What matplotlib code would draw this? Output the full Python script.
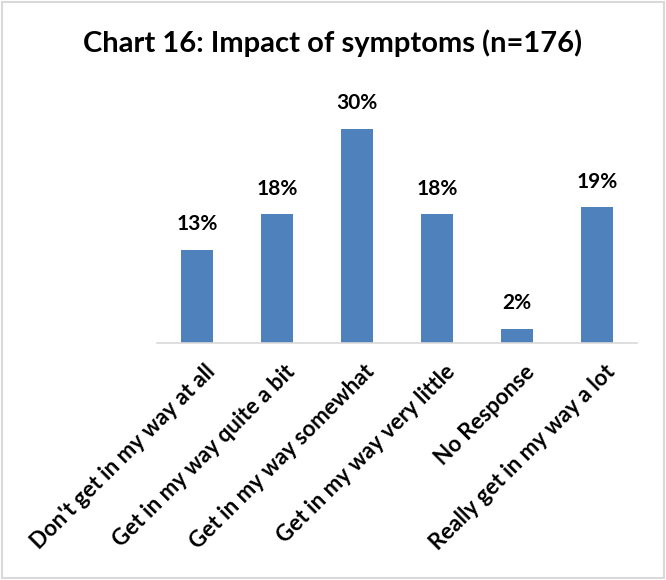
import matplotlib
matplotlib.use("Agg")
import matplotlib.pyplot as plt
from matplotlib.patches import Rectangle
from matplotlib.transforms import ScaledTranslation

categories = ["Don't get in my way at all", "Get in my way quite a bit",
              "Get in my way somewhat", "Get in my way very little",
              "No Response", "Really get in my way a lot"]
percent = [13, 18, 30, 18, 2, 19]
labels = ["13%", "18%", "30%", "18%", "2%", "19%"]

plt.rcParams["font.family"] = ["Lato", "DejaVu Sans"]
plt.rcParams["font.weight"] = "bold"

fig = plt.figure(figsize=(6.66, 5.8), dpi=100)
fig.patches.append(Rectangle((0.003, 0.003), 0.994, 0.994, transform=fig.transFigure,
                             fill=False, edgecolor="#d9d9d9", lw=1.5))

ax = fig.add_axes([0.2357, 0.4086, 0.7208, 0.4311])
x = range(len(categories))
ax.bar(x, percent, width=0.4, color="#4F81BD")
for xi, v, lab in zip(x, percent, labels):
    ax.text(xi, v + 2.2, lab, ha="center", va="bottom", fontsize=15,
            fontweight="bold", color="#000000")

ax.set_xlim(-0.5, len(categories) - 0.5)
ax.set_ylim(0, 35)
ax.set_yticks([])
ax.set_xticks(list(x))
ax.set_xticklabels(categories, rotation=45, ha="right", rotation_mode="anchor",
                   fontsize=16, fontweight="bold")
ax.tick_params(axis="x", length=0, pad=13)
# nudge the slanted labels a little to the right of each tick
shift = ScaledTranslation(7 / 100, 0, fig.dpi_scale_trans)
for t in ax.get_xticklabels():
    t.set_transform(t.get_transform() + shift)
for side in ("top", "right", "left"):
    ax.spines[side].set_visible(False)
ax.spines["bottom"].set_color("#d9d9d9")
ax.spines["bottom"].set_linewidth(1.2)

fig.suptitle("Chart 16: Impact of symptoms (n=176)", x=0.5, y=0.95,
             fontsize=21, fontweight="bold")

fig.savefig("out.png", dpi=100)
